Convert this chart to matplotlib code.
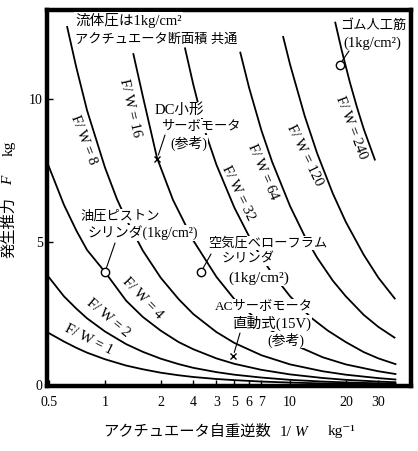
import matplotlib
matplotlib.use('Agg')
import matplotlib.pyplot as plt

plt.rcParams['font.family'] = ['Liberation Serif', 'Noto Sans CJK JP', 'DejaVu Serif']

W, H = 418, 451

# F/W = const curves: x = 1/W (kg^-1), y = F (kg)
x_fw1 = [0.486, 0.6, 0.7, 0.8, 1.0, 1.3, 1.6, 2, 2.5, 3, 4, 5, 7, 10, 15, 20, 30, 37.5]
F_fw1 = [1.85, 1.52, 1.3, 1.13, 0.9, 0.68, 0.55, 0.43, 0.34, 0.28, 0.21, 0.17, 0.12, 0.085, 0.055, 0.04, 0.027, 0.02]

x_fw2 = [0.486, 0.6, 0.7, 0.8, 1.0, 1.3, 1.6, 2, 2.5, 3, 4, 5, 7, 10, 15, 20, 30, 37.5]
F_fw2 = [3.85, 3.1, 2.67, 2.33, 1.87, 1.43, 1.16, 0.92, 0.73, 0.6, 0.45, 0.36, 0.26, 0.18, 0.12, 0.09, 0.06, 0.048]

x_fw4 = [0.486, 0.6, 0.7, 0.8, 1.0, 1.3, 1.6, 2, 2.5, 3, 4, 5, 7, 10, 15, 20, 30, 37.5]
F_fw4 = [7.8, 6.3, 5.4, 4.72, 3.95, 2.95, 2.38, 1.9, 1.5, 1.25, 0.93, 0.74, 0.53, 0.37, 0.245, 0.18, 0.12, 0.095]

x_fw8 = [0.623, 0.7, 0.8, 1.0, 1.16, 1.3, 1.6, 2, 2.5, 3, 4, 5, 7, 10, 15, 20, 30, 37.5]
F_fw8 = [12.55, 11.1, 9.6, 7.6, 6.5, 5.8, 4.7, 3.75, 3.0, 2.48, 1.85, 1.47, 1.04, 0.72, 0.48, 0.36, 0.24, 0.19]

x_fw16 = [1.42, 1.6, 1.91, 2.33, 3, 4, 5, 7, 10, 15, 20, 30, 37.5]
F_fw16 = [11.6, 10.1, 7.94, 6.47, 5.05, 3.78, 3.0, 2.13, 1.47, 0.97, 0.72, 0.48, 0.38]

x_fw32 = [2.7, 3.0, 3.5, 4, 5, 6, 7, 8, 10, 13, 16, 20, 25, 30, 37.5]
F_fw32 = [11.8, 10.5, 8.8, 7.7, 6.2, 5.2, 4.45, 3.9, 3.1, 2.35, 1.9, 1.5, 1.15, 0.93, 0.72]

x_fw64 = [5.37, 6, 7, 8, 10, 12, 14, 17, 20, 25, 30, 37]
F_fw64 = [11.65, 10.4, 8.9, 7.8, 6.25, 5.2, 4.45, 3.65, 3.1, 2.45, 2.03, 1.64]

x_fw120 = [9.15, 10, 12, 14, 17, 20, 25, 30, 37]
F_fw120 = [12.2, 11.2, 9.4, 8.1, 6.7, 5.7, 4.55, 3.75, 3.0]

x_fw240 = [17.5, 19, 21, 23, 25, 28.8]
F_fw240 = [12.7, 11.7, 10.6, 9.7, 8.95, 7.85]

# actuator examples
circ_x = [1.0, 3.3, 18.5]      # oil piston, bellofram, rubber muscle
circ_F = [3.95, 3.95, 11.2]
cross_x = [1.91, 4.92]         # DC servo, AC servo
cross_F = [7.9, 1.0]

xtick_vals = [0.5, 1, 2, 3, 4, 5, 6, 7, 10, 20, 30]
xtick_labels = ['0.5', '1', '2', '4', '3', '5', '6', '7', '10', '20', '30']
ytick_vals = [0, 5, 10]


def fx(px):
    return px / W


def fy(py):
    return 1 - py / H


fig = plt.figure(figsize=(W / 100, H / 100), dpi=100)
ax = fig.add_axes([fx(47), fy(386), 364 / W, 376 / H])

curves = [(x_fw1, F_fw1), (x_fw2, F_fw2), (x_fw4, F_fw4), (x_fw8, F_fw8),
          (x_fw16, F_fw16), (x_fw32, F_fw32), (x_fw64, F_fw64),
          (x_fw120, F_fw120), (x_fw240, F_fw240)]
for xs, Fs in curves:
    ax.plot(xs, Fs, color='black', lw=1.3, solid_capstyle='butt')

ax.plot(circ_x, circ_F, 'o', ms=6, mfc='white', mec='black', mew=1.0, zorder=5)
ax.plot(cross_x, cross_F, 'x', ms=5, color='black', mew=1.0, zorder=5)

ax.set_xscale('log')
ax.set_xlim(0.486, 45)
ax.set_ylim(-0.035, 13.11)
ax.set_xticks(xtick_vals)
ax.set_xticklabels(xtick_labels)
ax.minorticks_off()
ax.set_yticks(ytick_vals)
ax.tick_params(direction='in', length=4, width=1, labelsize=10, pad=3)
ax.tick_params(axis='x', pad=7)
for s in ax.spines.values():
    s.set_linewidth(3.2)

fs = 9.5
box = dict(facecolor='white', edgecolor='none', pad=0.6)


def txt(px, py, s, ha='left', rot=0, bbox=True, size=fs, style='normal'):
    fig.text(fx(px), fy(py), s, ha=ha, va='center', rotation=rot,
             rotation_mode='anchor', fontsize=size, style=style,
             bbox=box if bbox else None, zorder=10)


# axis titles (pieces so that F and W can be italic)
txt(9, 228, '発生推力', ha='center', rot=90, bbox=False, size=11)
txt(9, 180, 'F', ha='center', rot=90, bbox=False, size=11, style='italic')
txt(9, 148, 'kg', ha='center', rot=90, bbox=False, size=11)
txt(103, 432, 'アクチュエータ自重逆数', bbox=False, size=11)
txt(280, 432, '1/', bbox=False, size=11)
txt(295, 432, 'W', bbox=False, size=11, style='italic')
txt(328, 432, 'kg⁻¹', bbox=False, size=11)

# header note
txt(75, 20, '流体圧は1kg/cm²', size=10.5)
txt(75, 39, 'アクチュエータ断面積 共通')

# curve labels
cl = 10.5
txt(89, 340, 'F/ W = 1', ha='center', rot=-27, bbox=False, size=cl)
txt(108, 318, 'F/ W = 2', ha='center', rot=-40, bbox=False, size=cl)
txt(143, 298, 'F/ W = 4', ha='center', rot=-46, bbox=False, size=cl)
txt(84, 140, 'F/ W = 8', ha='center', rot=-69, bbox=False, size=cl)
txt(130, 108, 'F/ W = 16', ha='center', rot=-77, bbox=False, size=cl)
txt(238, 193, 'F/ W = 32', ha='center', rot=-64, bbox=False, size=cl)
txt(263, 172, 'F/ W = 64', ha='center', rot=-67, bbox=False, size=cl)
txt(305, 155, 'F/ W = 120', ha='center', rot=-64, bbox=False, size=cl)
txt(351, 128, 'F/ W = 240', ha='center', rot=-69, bbox=False, size=cl)

# actuator annotations
txt(155, 110, 'DC小形', size=10.5)
txt(161, 126, 'サーボモータ')
txt(170, 143, '(参考)', size=10)

txt(80, 216, '油圧ピストン')
txt(88, 233, 'シリンダ(1kg/cm²)', size=10)

txt(208, 243, '空気圧ベローフラム')
txt(222, 259, 'シリンダ')
txt(228, 278, '(1kg/cm²)', size=11)

txt(215, 306, 'ACサーボモータ')
txt(232, 323, '直動式(15V)', size=10.5)
txt(267, 340, '(参考)', size=10)

txt(340, 26, 'ゴム人工筋', bbox=False)
txt(343, 43, '(1kg/cm²)', bbox=False, size=10.5)

# leader lines from labels to points
leaders = [((165, 135), (cross_x[0], cross_F[0])),
           ((115, 243), (circ_x[0], circ_F[0])),
           ((211, 254), (circ_x[1], circ_F[1])),
           ((240, 333), (cross_x[1], cross_F[1])),
           ((349, 51), (circ_x[2], circ_F[2]))]
for (lx, ly), pt in leaders:
    ax.annotate('', xy=pt, xytext=(fx(lx), fy(ly)), textcoords='figure fraction',
                arrowprops=dict(arrowstyle='-', lw=0.8, color='black',
                                shrinkA=0, shrinkB=3))

fig.savefig('out.png', dpi=100)
